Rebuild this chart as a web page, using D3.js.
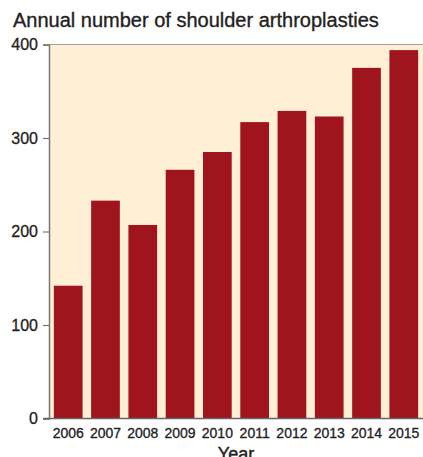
<!DOCTYPE html>
<html>
<head>
<meta charset="utf-8">
<script src="https://cdn.jsdelivr.net/npm/d3@7"></script>
<style>
  body { margin: 0; background: #fff; }
  svg { display: block; font-family: "Liberation Sans", Arial, sans-serif; }
</style>
</head>
<body>
<svg id="chart" width="423" height="457"></svg>
<script>
var years = ['2006', '2007', '2008', '2009', '2010', '2011', '2012', '2013', '2014', '2015'];
var counts = [142, 233, 207, 266, 285, 317, 329, 323, 375, 394];
var yTicks = [0, 100, 200, 300, 400];

var width = 423, height = 457;
var margin = { top: 44.5, right: 0, bottom: 38.5, left: 49 };

var svg = d3.select('#chart');

var x = d3.scaleBand()
  .domain(years)
  .range([margin.left, width - margin.right])
  .paddingInner(0.23)
  .paddingOuter(0.13);

var y = d3.scaleLinear()
  .domain([0, 400])
  .range([height - margin.bottom, margin.top]);

// plot background
svg.append('rect')
  .attr('x', margin.left)
  .attr('y', y(400))
  .attr('width', width - margin.right - margin.left)
  .attr('height', y(0) - y(400))
  .attr('fill', '#ffefd5');

// top border
svg.append('line')
  .attr('x1', margin.left).attr('x2', width)
  .attr('y1', y(400)).attr('y2', y(400))
  .attr('stroke', '#a0a0a0')
  .attr('stroke-width', 1.2);

svg.append('g')
  .selectAll('rect')
  .data(counts)
  .enter()
  .append('rect')
  .attr('x', function(d, i) { return x(years[i]); })
  .attr('y', function(d) { return y(d); })
  .attr('width', x.bandwidth())
  .attr('height', function(d) { return y(0) - y(d); })
  .attr('fill', '#a0151d');

// y axis
var yAxis = svg.append('g')
  .attr('transform', 'translate(' + margin.left + ',0)')
  .call(d3.axisLeft(y).tickValues(yTicks).tickSize(6).tickPadding(5));
yAxis.select('.domain').attr('stroke', '#777').attr('stroke-width', 1.5);
yAxis.selectAll('.tick line').attr('stroke', '#777').attr('stroke-width', 1.2);
yAxis.selectAll('.tick text')
  .attr('fill', '#222')
  .attr('stroke', '#222')
  .attr('stroke-width', 0.3)
  .style('font-size', '16px');

// x axis
var xAxis = svg.append('g')
  .attr('transform', 'translate(0,' + y(0) + ')')
  .call(d3.axisBottom(x).tickSize(0).tickPadding(10));
xAxis.select('.domain').remove();
xAxis.selectAll('.tick text')
  .attr('fill', '#222')
  .attr('stroke', '#222')
  .attr('stroke-width', 0.3)
  .style('font-size', '14px');

svg.append('line')
  .attr('x1', margin.left - 6).attr('x2', width)
  .attr('y1', y(0)).attr('y2', y(0))
  .attr('stroke', '#666')
  .attr('stroke-width', 1.5);

// axis title sits at the bottom edge, cut off as in the original
svg.append('text')
  .attr('x', (margin.left + width) / 2)
  .attr('y', 460)
  .attr('text-anchor', 'middle')
  .attr('fill', '#222')
  .attr('stroke', '#222')
  .attr('stroke-width', 0.4)
  .style('font-size', '18px')
  .text('Year');

svg.append('text')
  .attr('x', 13)
  .attr('y', 27)
  .attr('fill', '#222')
  .attr('stroke', '#222')
  .attr('stroke-width', 0.35)
  .style('font-size', '20px')
  .text('Annual number of shoulder arthroplasties');
</script>
</body>
</html>
